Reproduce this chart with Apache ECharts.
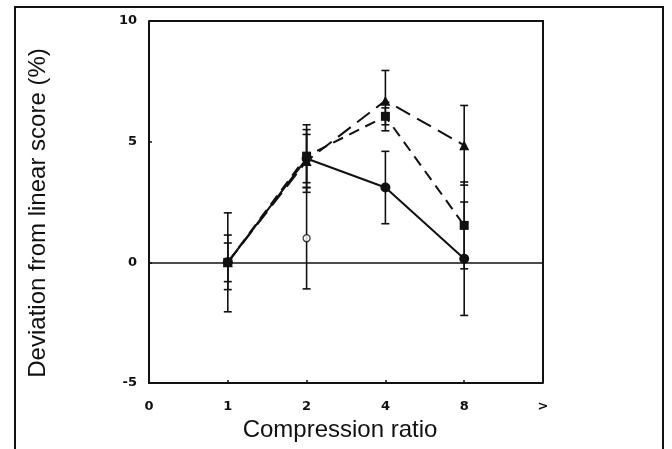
<!DOCTYPE html>
<html>
<head>
<meta charset="utf-8">
<script src="https://cdn.jsdelivr.net/npm/echarts@6/dist/echarts.min.js"></script>
<style>
  html, body { margin: 0; padding: 0; background: #fff; }
  #main { width: 672px; height: 449px; }
</style>
</head>
<body>
<div id="main"></div>
<script>
// x axis: compression ratio shown as evenly spaced categories
var xLabels = ['0', '1', '2', '4', '8', '>'];
var ratioPos = [1, 2, 3, 4]; // positions of ratios 1, 2, 4, 8

// filled circles, solid line
var circleVals = [0, 4.3, 3.1, 0.15];
var circleErr = [2.05, 1.4, 1.5, 2.35];
// filled squares, short dashes
var squareVals = [0, 4.4, 6.05, 1.53];
var squareErr = [1.13, 1.1, 0.35, 1.8];
// filled triangles, long dashes
var triangleVals = [0, 4.2, 6.7, 4.85];
var triangleErr = [0.8, 1.1, 1.25, 1.65];
// single open circle at ratio 2
var openPos = [2];
var openVals = [1.0];
var openErr = [2.1];

function pairs(vals) {
  return vals.map(function (v, i) { return [ratioPos[i], v]; });
}
function errRows(pos, vals, errs) {
  return vals.map(function (v, i) { return [pos[i], v - errs[i], v + errs[i]]; });
}

var errData = []
  .concat(errRows(ratioPos, circleVals, circleErr))
  .concat(errRows(ratioPos, squareVals, squareErr))
  .concat(errRows(ratioPos, triangleVals, triangleErr))
  .concat(errRows(openPos, openVals, openErr));

var chart = echarts.init(document.getElementById('main'));

var option = {
  backgroundColor: '#fff',
  animation: false,
  grid: { left: 149, right: 129, top: 21, bottom: 66 },
  xAxis: {
    type: 'value',
    min: 0, max: 5, interval: 1,
    name: 'Compression ratio',
    nameLocation: 'middle',
    nameGap: 33,
    nameTextStyle: { fontFamily: 'Liberation Sans', fontSize: 24, color: '#111', padding: [0, 12, 0, 0] },
    axisLine: { show: true, onZero: false, lineStyle: { color: '#111', width: 2 } },
    axisTick: { show: true, inside: true, length: 3, lineStyle: { color: '#111', width: 1.5 } },
    axisLabel: {
      margin: 17,
      fontFamily: 'DejaVu Sans', fontWeight: 'bold', fontSize: 13, color: '#111',
      formatter: function (v) { return xLabels[v]; }
    },
    splitLine: { show: false }
  },
  yAxis: {
    type: 'value',
    min: -5, max: 10, interval: 5,
    axisLine: { show: true, onZero: false, lineStyle: { color: '#111', width: 2 } },
    axisTick: { show: true, inside: true, length: 3, lineStyle: { color: '#111', width: 1.5 } },
    axisLabel: {
      margin: 12,
      fontFamily: 'DejaVu Sans', fontWeight: 'bold', fontSize: 13, color: '#111'
    },
    splitLine: { show: false }
  },
  graphic: [
    // outer figure frame, open at the bottom edge
    { type: 'rect', shape: { x: 15, y: 7, width: 648, height: 470 },
      style: { fill: 'none', stroke: '#111', lineWidth: 2 }, z: 0 },
    // right and top edges of plot box
    { type: 'polyline', shape: { points: [[149, 21], [543, 21], [543, 383]] },
      style: { stroke: '#111', lineWidth: 2, fill: 'none' } },
    // y axis title
    { type: 'text', x: 38, y: 213, rotation: Math.PI / 2,
      style: { text: 'Deviation from linear score (%)', fontFamily: 'Liberation Sans',
        fontSize: 24, fill: '#111', align: 'center', verticalAlign: 'middle' } }
  ],
  series: [
    {
      type: 'custom',
      name: 'errors',
      data: errData,
      clip: false,
      z: 1,
      renderItem: function (params, api) {
        var lo = api.coord([api.value(0), api.value(1)]);
        var hi = api.coord([api.value(0), api.value(2)]);
        var w = 4;
        var st = { stroke: '#111', lineWidth: 1.6 };
        return {
          type: 'group',
          children: [
            { type: 'line', shape: { x1: lo[0], y1: lo[1], x2: hi[0], y2: hi[1] }, style: st },
            { type: 'line', shape: { x1: lo[0] - w, y1: lo[1], x2: lo[0] + w, y2: lo[1] }, style: st },
            { type: 'line', shape: { x1: hi[0] - w, y1: hi[1], x2: hi[0] + w, y2: hi[1] }, style: st }
          ]
        };
      }
    },
    {
      type: 'line',
      name: 'circle',
      data: pairs(circleVals),
      symbol: 'circle', symbolSize: 10,
      itemStyle: { color: '#111' },
      lineStyle: { color: '#111', width: 2, type: 'solid' },
      z: 3,
      markLine: {
        silent: true, symbol: 'none', label: { show: false },
        lineStyle: { color: '#111', width: 1.6, type: 'solid' },
        data: [{ yAxis: 0 }]
      }
    },
    {
      type: 'line',
      name: 'square',
      data: pairs(squareVals),
      symbol: 'rect', symbolSize: 9,
      itemStyle: { color: '#111' },
      lineStyle: { color: '#111', width: 2, type: [11, 7] },
      z: 3
    },
    {
      type: 'line',
      name: 'triangle',
      data: pairs(triangleVals),
      symbol: 'triangle', symbolSize: 10,
      itemStyle: { color: '#111' },
      lineStyle: { color: '#111', width: 2, type: [16, 8] },
      z: 3
    },
    {
      type: 'scatter',
      name: 'open',
      data: openVals.map(function (v, i) { return [openPos[i], v]; }),
      symbol: 'circle', symbolSize: 7,
      itemStyle: { color: '#fff', borderColor: '#111', borderWidth: 1.3 },
      z: 4
    }
  ]
};

chart.setOption(option);
</script>
</body>
</html>
